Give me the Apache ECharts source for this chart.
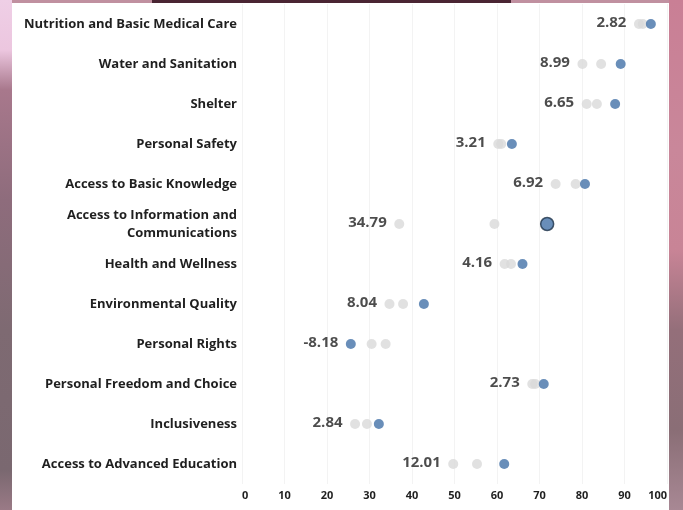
<!DOCTYPE html>
<html>
<head>
<meta charset="utf-8">
<script src="https://cdn.jsdelivr.net/npm/echarts@6/dist/echarts.min.js"></script>
<style>
html,body{margin:0;padding:0;width:683px;height:510px;overflow:hidden;}
#left{position:absolute;left:0;top:0;width:12px;height:510px;
 background:linear-gradient(180deg,#efcfe6 0px,#ecc6df 50px,#a8788c 90px,#8e6c7c 200px,#7e6a72 330px,#7a6870 470px,#9a7a86 510px);}
#right{position:absolute;left:669px;top:0;width:14px;height:510px;
 background:linear-gradient(180deg,#c97f95 0px,#c9879a 150px,#c88496 250px,#946f7a 330px,#8a6e76 430px,#a88894 510px);}
#topbar{position:absolute;left:12px;top:0;width:657px;height:3px;background:#c090a0;}
#darkbar{position:absolute;left:152px;top:0;width:359px;height:3px;background:#4a2533;}
#panel{position:absolute;left:12px;top:3px;width:657px;height:507px;background:#ffffff;}
#chart{position:absolute;left:0;top:0;width:683px;height:510px;}
</style>
</head>
<body>
<div id="left"></div><div id="right"></div><div id="topbar"></div><div id="darkbar"></div><div id="panel"></div>
<div id="chart"></div>
<script>
const categories = [
  'Nutrition and Basic Medical Care',
  'Water and Sanitation',
  'Shelter',
  'Personal Safety',
  'Access to Basic Knowledge',
  'Access to Information and\nCommunications',
  'Health and Wellness',
  'Environmental Quality',
  'Personal Rights',
  'Personal Freedom and Choice',
  'Inclusiveness',
  'Access to Advanced Education'
];
const year1 = [93.4, 80.1, 81.1, 60.3, 73.8, 37.0, 61.8, 34.7, 33.8, 68.3, 29.4, 49.7];
const year2 = [94.3, 84.5, 83.5, 61.0, 78.5, 59.4, 63.3, 37.9, 30.5, 69.0, 26.6, 55.3];
const year3 = [96.2, 89.1, 87.8, 63.5, 80.7, 71.8, 66.0, 42.8, 25.6, 71.0, 32.2, 61.7];
const changeLabels = ['2.82','8.99','6.65','3.21','6.92','34.79','4.16','8.04','-8.18','2.73','2.84','12.01'];
const xTicks = [0,10,20,30,40,50,60,70,80,90,100];
const highlightIndex = 5;

const FONT = 'Open Sans';
const chart = echarts.init(document.getElementById('chart'), null, {renderer:'canvas'});
const grey = '#dadada';
const blue = '#4472a8';
const ink = '#1f1f1f';

chart.setOption({
  backgroundColor: 'transparent',
  animation: false,
  grid: {left: 242, right: 16, top: 4, bottom: 26, containLabel: false},
  xAxis: {
    type: 'value', min: xTicks[0], max: xTicks[xTicks.length-1], interval: 10,
    axisLine: {show:false}, axisTick: {show:false},
    splitLine: {show:true, lineStyle:{color:'#f3f3f3', width:1}},
    axisLabel: {margin: 6, color: ink, fontFamily: FONT, fontWeight:'bold', fontSize: 11,
      alignMinLabel:'left', alignMaxLabel:'right'}
  },
  yAxis: {
    type: 'category', data: categories, inverse: true,
    axisLine: {show:false}, axisTick: {show:false}, splitLine:{show:false},
    axisLabel: {margin: 5, color: ink, fontFamily: FONT, fontWeight:'bold', fontSize: 13, lineHeight: 18, align:'right'}
  },
  series: [
    {type:'scatter', symbolSize: 10, itemStyle:{color: grey}, z: 2,
     data: categories.map((c,i)=>[year1[i], c])},
    {type:'scatter', symbolSize: 10, itemStyle:{color: grey}, z: 3,
     data: categories.map((c,i)=>[year2[i], c])},
    {type:'scatter', symbolSize: 10, itemStyle:{color: blue}, z: 4,
     data: categories.map((c,i)=> i===highlightIndex
        ? {value:[year3[i], c], symbolSize: 13, itemStyle:{color: blue, borderColor:'#1d3249', borderWidth:1.5}}
        : [year3[i], c])},
    {type:'scatter', symbolSize: 1, itemStyle:{color:'rgba(0,0,0,0)'}, z: 5, silent:true,
     data: categories.map((c,i)=>[Math.min(year1[i], year2[i], year3[i]), c]),
     label: {show:true, position:'left', distance: 12, offset:[0,-1],
       color: ink, fontFamily: FONT, fontWeight:'bold', fontSize: 15,
       formatter: p => changeLabels[p.dataIndex]}}
  ]
});
</script>
</body>
</html>
